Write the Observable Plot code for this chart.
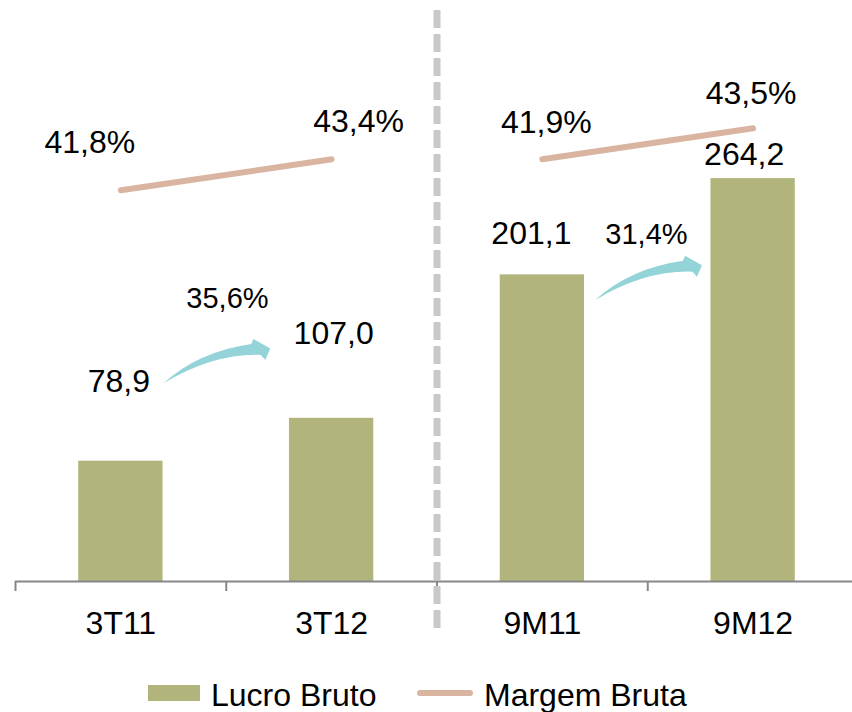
<!DOCTYPE html>
<html>
<head>
<meta charset="utf-8">
<script src="https://cdn.jsdelivr.net/npm/d3@7"></script>
<script src="https://cdn.jsdelivr.net/npm/@observablehq/plot@0.6"></script>
<style>
  html, body { margin: 0; padding: 0; background: #fff; }
  #wrap { position: relative; width: 852px; height: 712px; overflow: hidden; font-family: "Liberation Sans", Arial, sans-serif; }
  #wrap svg { position: absolute; left: 0; top: 0; }
  #legend { position: absolute; left: 0; top: 665px; width: 852px; height: 47px; }
  #legend .it { position: absolute; }
  #legend .txt { font-size: 32px; line-height: 32px; color: #000; white-space: nowrap; }
</style>
</head>
<body>
<div id="wrap"><div id="legend"></div></div>
<script>
// ---- data ----
const categories = ["3T11", "3T12", "9M11", "9M12"];
const lucroBruto = [78.9, 107.0, 201.1, 264.2];
const margemBruta = [41.8, 43.4, 41.9, 43.5];
const growthFrom = ["3T11", "9M11"];
const growthTo = ["3T12", "9M12"];
const growthPct = [35.6, 31.4];
const seriesNames = ["Lucro Bruto", "Margem Bruta"];
const leftGroup = ["3T11", "3T12"];
const rightGroup = ["9M11", "9M12"];
// secondary (margin) axis ranges of each panel
const marginDomainLeft = [21.6, 51.6];
const marginDomainRight = [20.1, 50.1];
const barDomain = [0, 381];

// ---- layout / style ----
const W = 852, H = 665, mT = 0, mB = 84, mL = 15, mR = 0;
const xRange = [15, 858];
const step = (xRange[1] - xRange[0]) / categories.length;
const bandW = step * 0.4;
const barColor = "#b1b47b";
const lineColor = "#d9b5a1";
const arrowColor = "#94d4d8";
const axisColor = "#878787";
const font = "Liberation Sans, Arial, sans-serif";
const bigFont = 32, smallFont = 29;
const fmt = v => v.toFixed(1).replace(".", ",");

const valueNudge = [[-2, -69], [2, -74], [-11, -31], [-9, -14]];
const marginNudge = [[-31, -37], [27, -27], [4, -26], [-2, -24]];
const growthNudge = [[106.6, -153.6], [104.1, -31.2]];
const arrowNudge = [[42.9, -77.3], [53.1, 25.8]];
const arrowShape = "M0,0 Q35,-32 88,-39.5 L90,-44.5 L107,-35 L102,-23.5 L97.5,-28.5 Q50,-30 0,0 Z";

// ---- tables ----
const bars = categories.map((c, i) => ({cat: c, value: lucroBruto[i]}));
const margins = categories.map((c, i) => ({cat: c, m: margemBruta[i]}));
const growth = growthPct.map((p, i) => ({
  from: growthFrom[i], to: growthTo[i], pct: p,
  fromValue: lucroBruto[categories.indexOf(growthFrom[i])]
}));

const xOpts = () => ({type: "band", domain: categories, range: xRange, paddingInner: 0.6, paddingOuter: 0.3, round: false, axis: null});
const base = {width: W, height: H, marginTop: mT, marginBottom: mB, marginLeft: mL, marginRight: mR,
  style: {background: "transparent", overflow: "visible", fontFamily: font}};

function arrows(index, scales) {
  const xs = scales.x, ys = scales.y;
  const g = d3.create("svg:g");
  growth.forEach((d, i) => {
    const x0 = xs(d.from) + bandW / 2 + arrowNudge[i][0];
    const y0 = ys(d.fromValue) + arrowNudge[i][1];
    g.append("path")
      .attr("transform", `translate(${x0},${y0})`)
      .attr("d", arrowShape)
      .attr("fill", arrowColor);
  });
  return g.node();
}

const main = Plot.plot({
  ...base,
  x: xOpts(),
  y: {domain: barDomain, axis: null},
  marks: [
    Plot.barY(bars, {x: "cat", y: "value", fill: barColor}),
    Plot.ruleY([0], {stroke: axisColor, strokeWidth: 2}),
    Plot.ruleX(categories, {x: d => d, dx: -step / 2, insetTop: H - mB - mT, insetBottom: -10, stroke: axisColor, strokeWidth: 2}),
    Plot.ruleX(["9M11"], {x: d => d, dx: -step / 2, insetTop: 10, insetBottom: -47, stroke: "#c8c8c8", strokeWidth: 7, strokeDasharray: "18,6"}),
    Plot.text(categories, {x: d => d, frameAnchor: "bottom", lineAnchor: "bottom", dy: 52, text: d => d, fontSize: bigFont, fill: "#000", fontFamily: font}),
    ...bars.map((d, i) => Plot.text([d], {x: "cat", y: "value", text: r => fmt(r.value), lineAnchor: "bottom",
      dx: valueNudge[i][0], dy: valueNudge[i][1], fontSize: bigFont, fill: "#000", fontFamily: font})),
    ...growth.map((d, i) => Plot.text([d], {x: "from", y: "fromValue", text: r => fmt(r.pct) + "%", lineAnchor: "bottom",
      dx: growthNudge[i][0], dy: growthNudge[i][1], fontSize: smallFont, fill: "#000", fontFamily: font})),
    arrows
  ]
});

function marginPlot(group, domain, offset) {
  const data = margins.filter(d => group.includes(d.cat));
  return Plot.plot({
    ...base,
    x: xOpts(),
    y: {domain, axis: null},
    marks: [
      Plot.line(data, {x: "cat", y: "m", stroke: lineColor, strokeWidth: 6, strokeLinecap: "round"}),
      ...data.map((d, j) => Plot.text([d], {x: "cat", y: "m", text: r => fmt(r.m) + "%", lineAnchor: "bottom",
        dx: marginNudge[offset + j][0], dy: marginNudge[offset + j][1], fontSize: bigFont, fill: "#000", fontFamily: font}))
    ]
  });
}

const wrap = document.getElementById("wrap");
wrap.insertBefore(main, wrap.firstChild);
const ovL = marginPlot(leftGroup, marginDomainLeft, 0);
const ovR = marginPlot(rightGroup, marginDomainRight, 2);
[ovL, ovR].forEach(s => { s.style.pointerEvents = "none"; wrap.insertBefore(s, document.getElementById("legend")); });

// ---- legend ----
const legend = document.getElementById("legend");
legend.innerHTML = `
  <div class="it" style="left:148px;top:20px;width:52px;height:16px;background:${barColor}"></div>
  <div class="it txt" style="left:211px;top:14px">${seriesNames[0]}</div>
  <div class="it" style="left:417px;top:25px;width:56px;height:6px;border-radius:3px;background:${lineColor}"></div>
  <div class="it txt" style="left:484px;top:14px">${seriesNames[1]}</div>`;
</script>
</body>
</html>
